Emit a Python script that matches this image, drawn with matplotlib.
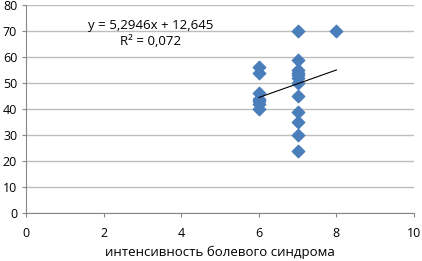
import numpy as np
import matplotlib
matplotlib.use("Agg")
import matplotlib.pyplot as plt

plt.rcParams["font.family"] = ["Open Sans", "DejaVu Sans"]

x_vals = [6, 6, 6, 6, 6, 6, 6,
          7, 7, 7, 7, 7, 7, 7, 7, 7, 7, 7, 7,
          8]
y_vals = [56, 54, 46, 44, 43, 42, 40,
          70, 59, 55, 54, 53, 52, 50, 45, 39, 35, 30, 24,
          70]
slope = 5.2946
intercept = 12.645
eq_text = "y = 5,2946x + 12,645\nR² = 0,072"
xlabel = "интенсивность болевого синдрома"

fig = plt.figure(figsize=(4.22, 2.61), dpi=100)
ax = fig.add_axes([0.062, 0.184, 0.919, 0.797])

ax.scatter(x_vals, y_vals, marker="D", s=40, color="#4A7EBB", zorder=3)
xt = np.array([min(x_vals), max(x_vals)])
ax.plot(xt, slope * xt + intercept, color="black", lw=0.8, zorder=4)

ax.set_xlim(0, 10)
ax.set_ylim(0, 80)
ax.set_xticks(range(0, 11, 2))
ax.set_yticks(range(0, 81, 10))
ax.grid(axis="y", color="#BDBDBD", lw=1)
ax.set_axisbelow(True)
for s in ["top", "right"]:
    ax.spines[s].set_visible(False)
ax.spines["left"].set_color("#888888")
ax.spines["bottom"].set_color("#888888")
ax.tick_params(colors="#888888", labelcolor="black", labelsize=9, length=3)
ax.tick_params(axis="x", pad=7)
ax.set_xlabel(xlabel, fontsize=9.5, labelpad=4)
ax.text(3.22, 69, eq_text, ha="center", va="center", fontsize=9.5, linespacing=1.35)

fig.savefig("out.png", dpi=100)
